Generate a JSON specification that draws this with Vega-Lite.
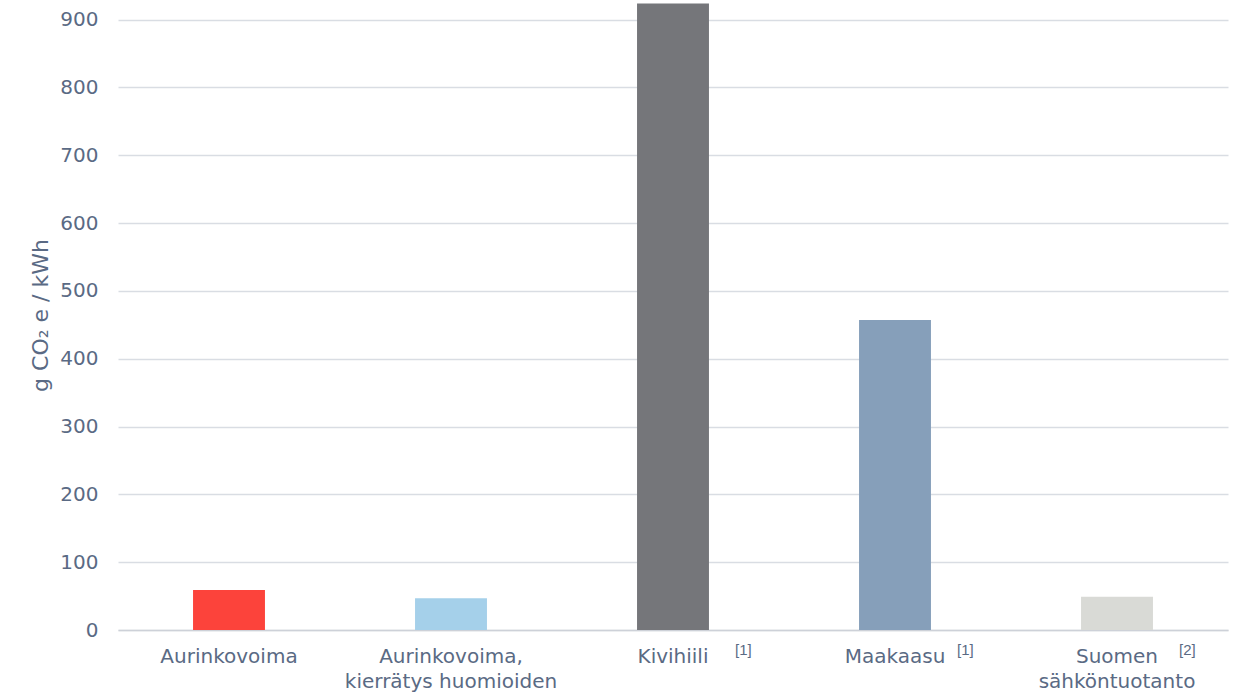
{
  "$schema": "https://vega.github.io/schema/vega-lite/v6.json",
  "width": 1110,
  "height": 630,
  "autosize": {"type": "none"},
  "padding": {"left": 118, "top": 0, "right": 12, "bottom": 70},
  "background": "white",
  "config": {"view": {"stroke": null}, "font": "DejaVu Sans"},
  "data": {
    "values": [
      {"kategoria": "Aurinkovoima", "arvo": 59, "viite": ""},
      {"kategoria": "Aurinkovoima,|kierrätys huomioiden", "arvo": 47, "viite": ""},
      {"kategoria": "Kivihiili", "arvo": 924, "viite": "[1]"},
      {"kategoria": "Maakaasu", "arvo": 457, "viite": "[1]"},
      {"kategoria": "Suomen|sähköntuotanto", "arvo": 49, "viite": "[2]"}
    ]
  },
  "encoding": {
    "x": {
      "field": "kategoria",
      "type": "nominal",
      "sort": null,
      "scale": {"paddingInner": 0.676, "paddingOuter": 0.338},
      "axis": {
        "title": null,
        "labelAngle": 0,
        "labelExpr": "split(datum.label, '|')",
        "labelFont": "DejaVu Sans",
        "labelFontSize": 20,
        "labelColor": "#5a6a84",
        "labelPadding": 16,
        "labelLineHeight": 25,
        "labelBaseline": "top",
        "labelLimit": 400,
        "labelOverlap": false,
        "ticks": false,
        "domainColor": "#cdd1d8",
        "domainWidth": 1.5
      }
    }
  },
  "layer": [
    {
      "mark": {"type": "bar"},
      "encoding": {
        "y": {
          "field": "arvo",
          "type": "quantitative",
          "scale": {"domain": [0, 929], "nice": false},
          "axis": {
            "title": "g CO₂ e / kWh",
            "titleFont": "DejaVu Sans",
            "titleFontSize": 22,
            "titleFontWeight": "normal",
            "titleColor": "#5a6a84",
            "titlePadding": 7,
            "values": [0, 100, 200, 300, 400, 500, 600, 700, 800, 900],
            "labelFont": "DejaVu Sans",
            "labelFontSize": 20,
            "labelColor": "#5a6a84",
            "labelPadding": 20,
            "ticks": false,
            "domain": false,
            "gridColor": "#d9dde3",
            "gridWidth": 1.5
          }
        },
        "color": {
          "field": "kategoria",
          "type": "nominal",
          "sort": null,
          "legend": null,
          "scale": {"range": ["#fc433b", "#a5d0ea", "#75767a", "#869fba", "#d9dad6"]}
        }
      }
    },
    {
      "mark": {"type": "text", "align": "left", "baseline": "top", "dx": 62, "dy": 13, "fontSize": 15, "font": "Liberation Sans", "color": "#5a6a84"},
      "encoding": {
        "y": {"datum": 0, "type": "quantitative"},
        "text": {"field": "viite"}
      }
    }
  ]
}
